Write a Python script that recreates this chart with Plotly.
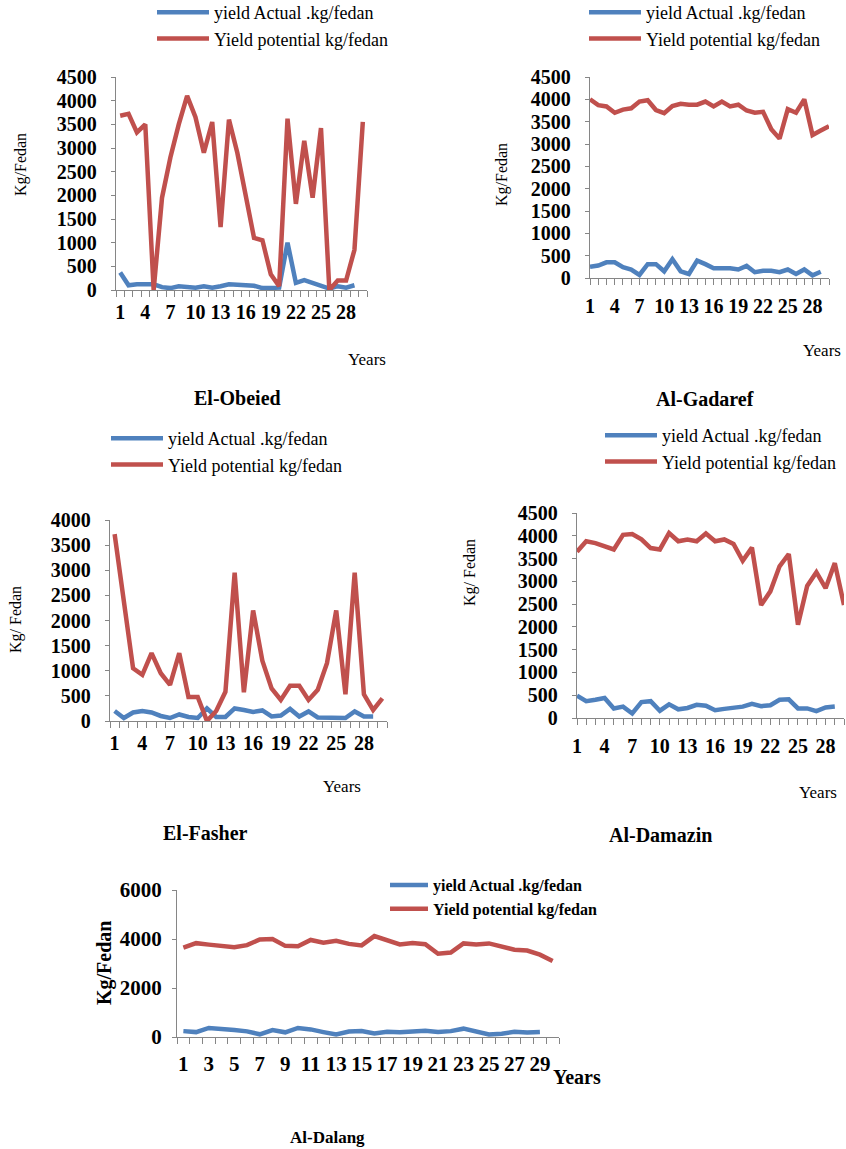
import plotly.graph_objects as go

# ---------------- data ----------------
years = list(range(1, 31))

obeied_actual = [370, 100, 120, 130, 120, 60, 40, 80, 70, 50, 80, 50, 80, 120, 110,
                 100, 90, 40, 40, 50, 1000, 150, 210, 150, 80, 30, 80, 50, 100]
obeied_potential = [3680, 3720, 3330, 3500, 0, 1950, 2800, 3500, 4100, 3650, 2900, 3550,
                    1330, 3600, 2900, 2050, 1100, 1050, 330, 80, 3620, 1820, 3150, 1950,
                    3420, 0, 200, 200, 850, 3550]

gadaref_actual = [250, 280, 350, 350, 240, 190, 70, 310, 310, 150, 420, 150, 90, 390, 310,
                  220, 220, 220, 190, 270, 130, 160, 160, 130, 190, 90, 190, 60, 140]
gadaref_potential = [4000, 3870, 3840, 3700, 3770, 3800, 3950, 3980, 3760, 3690, 3850, 3900,
                     3880, 3880, 3950, 3840, 3950, 3840, 3880, 3750, 3700, 3720, 3330, 3120,
                     3780, 3700, 4000, 3200, 3300, 3400]

fasher_actual = [200, 60, 170, 200, 170, 100, 60, 130, 80, 60, 250, 80, 80, 250, 220,
                 180, 210, 90, 110, 240, 90, 190, 70, 70, 70, 60, 190, 90, 90]
fasher_potential = [3720, 2400, 1050, 920, 1350, 950, 720, 1350, 480, 480, 0, 200,
                    580, 2950, 570, 2200, 1200, 650, 420, 700, 700, 420, 620, 1150,
                    2200, 530, 2950, 530, 220, 450]

damazin_actual = [490, 370, 400, 440, 210, 250, 100, 350, 370, 160, 300, 190, 220, 290, 270,
                  170, 200, 220, 250, 310, 260, 280, 400, 410, 210, 210, 150, 230, 250]
damazin_potential = [3650, 3880, 3840, 3760, 3700, 4020, 4040, 3920, 3730, 3700, 4060, 3880,
                     3920, 3880, 4050, 3880, 3920, 3820, 3450, 3740, 2480, 2780, 3330, 3600,
                     2050, 2900, 3200, 2850, 3400, 2480]

dalang_actual = [240, 200, 370, 350, 290, 230, 110, 280, 190, 370, 310, 200, 100, 220, 240,
                 140, 210, 190, 220, 250, 200, 240, 340, 200, 100, 130, 210, 180, 200]
dalang_potential = [3650, 3830, 3770, 3700, 3660, 3750, 3980, 4000, 3720, 3700, 3960, 3850,
                    3930, 3800, 3740, 4120, 3950, 3780, 3840, 3790, 3400, 3450, 3820, 3780,
                    3820, 3680, 3560, 3530, 3360, 3100]

station_names = ["El-Obeied", "Al-Gadaref", "El-Fasher", "Al-Damazin", "Al-Dalang"]
series_names = ["yield Actual .kg/fedan", "Yield potential kg/fedan"]
ticks_every3 = [1, 4, 7, 10, 13, 16, 19, 22, 25, 28]
ticks_odd = list(range(1, 30, 2))

# ---------------- style ----------------
W, H = 846, 1149
BLUE = "#4F81BD"
RED = "#C0504D"
AXIS = "#868686"
FONT = "Liberation Serif"


def fx(px):
    return px / W


def fy(py):
    return 1 - py / H


panels = [
    dict(actual=obeied_actual, potential=obeied_potential, x=(116, 367), y=(77, 290),
         yr=[0, 4500], dt=500, between=True, xt=ticks_every3, ylab="Kg/Fedan",
         ylab_pos=(21, 165), years_pos=(367, 359), title_pos=(237, 398),
         leg=(152, -6), legw=52, legfs=18, bold=False, lw=4.5, tfs=20, xstand=4, ystand=10),
    dict(actual=gadaref_actual, potential=gadaref_potential, x=(590, 829), y=(77, 278),
         yr=[0, 4500], dt=500, between=False, xt=ticks_every3, ylab="Kg/Fedan",
         ylab_pos=(502, 175), years_pos=(822, 350), title_pos=(705, 399),
         leg=(584, -6), legw=52, legfs=18, bold=False, lw=4.5, tfs=20, xstand=4, ystand=10),
    dict(actual=fasher_actual, potential=fasher_potential, x=(110, 387), y=(520, 721),
         yr=[0, 4000], dt=500, between=True, xt=ticks_every3, ylab="Kg/ Fedan",
         ylab_pos=(16, 620), years_pos=(342, 786), title_pos=(205, 833),
         leg=(106, 420), legw=52, legfs=18, bold=False, lw=4.5, tfs=20, xstand=4, ystand=10),
    dict(actual=damazin_actual, potential=damazin_potential, x=(577, 844), y=(513, 718),
         yr=[0, 4500], dt=500, between=False, xt=ticks_every3, ylab="Kg/ Fedan",
         ylab_pos=(470, 573), years_pos=(818, 792), title_pos=(660, 835),
         leg=(600, 417), legw=52, legfs=18, bold=False, lw=4.5, tfs=20, xstand=4, ystand=10),
    dict(actual=dalang_actual, potential=dalang_potential, x=(177, 559), y=(890, 1037),
         yr=[0, 6000], dt=2000, between=True, xt=ticks_odd, ylab="Kg/Fedan",
         ylab_pos=(104, 963), years_pos=(577, 1077), title_pos=(327, 1137),
         leg=(385, 868), legw=38, legfs=16, bold=True, lw=4.5, tfs=21, xstand=8, ystand=6),
]

fig = go.Figure()
layout = dict(
    width=W, height=H,
    margin=dict(l=0, r=0, t=0, b=0, autoexpand=False),
    paper_bgcolor="white", plot_bgcolor="white",
    font=dict(family=FONT, color="black"),
    annotations=[],
)

for i, p in enumerate(panels, start=1):
    sfx = "" if i == 1 else str(i)
    legname = "legend" if i == 1 else f"legend{i}"
    n_act = len(p["actual"])
    n_pot = len(p["potential"])
    fig.add_trace(go.Scatter(
        x=years[:n_act], y=p["actual"], mode="lines", name=series_names[0],
        line=dict(color=BLUE, width=p["lw"]), xaxis=f"x{sfx}", yaxis=f"y{sfx}",
        legend=legname, hoverinfo="skip"))
    fig.add_trace(go.Scatter(
        x=years[:n_pot], y=p["potential"], mode="lines", name=series_names[1],
        line=dict(color=RED, width=p["lw"]), xaxis=f"x{sfx}", yaxis=f"y{sfx}",
        legend=legname, hoverinfo="skip"))

    if p["between"]:
        xrange = [0.5, len(years) + 0.5]
        minor_vals = [k + 0.5 for k in range(0, len(years) + 1)]
        major_ticks = ""
    else:
        xrange = [1, len(years)]
        minor_vals = years
        major_ticks = "outside"

    layout[f"xaxis{sfx}"] = dict(
        domain=[fx(p["x"][0]), fx(p["x"][1])], anchor=f"y{sfx}",
        range=xrange, tickmode="array", tickvals=p["xt"],
        ticktext=[str(v) for v in p["xt"]],
        ticks=major_ticks, ticklen=6, tickcolor=AXIS, tickwidth=1,
        minor=dict(tickmode="array", tickvals=minor_vals, ticks="outside",
                   ticklen=6, tickcolor=AXIS, tickwidth=1),
        showline=True, linecolor=AXIS, linewidth=1.3,
        showgrid=False, zeroline=False, fixedrange=True, automargin=False,
        tickfont=dict(family=FONT, size=p["tfs"], color="black", weight="bold"),
        ticklabelstandoff=p["xstand"],
    )
    layout[f"yaxis{sfx}"] = dict(
        domain=[fy(p["y"][1]), fy(p["y"][0])], anchor=f"x{sfx}",
        range=p["yr"], dtick=p["dt"], tick0=0,
        ticks="outside", ticklen=4, tickcolor=AXIS, tickwidth=1,
        showline=True, linecolor=AXIS, linewidth=1.3,
        showgrid=False, zeroline=False, fixedrange=True, automargin=False,
        tickfont=dict(family=FONT, size=p["tfs"], color="black", weight="bold"),
        ticklabelstandoff=p["ystand"],
    )
    weight = "bold" if p["bold"] else "normal"
    layout[legname] = dict(
        x=fx(p["leg"][0]), y=fy(p["leg"][1]), xanchor="left", yanchor="top",
        bgcolor="rgba(0,0,0,0)", borderwidth=0, traceorder="normal",
        itemwidth=p["legw"], tracegroupgap=0, itemclick=False, itemdoubleclick=False,
        font=dict(family=FONT, size=p["legfs"], color="black", weight=weight),
    )

    layout["annotations"].append(dict(
        text=p["ylab"], x=fx(p["ylab_pos"][0]), y=fy(p["ylab_pos"][1]),
        xref="paper", yref="paper", showarrow=False, textangle=-90,
        xanchor="center", yanchor="middle",
        font=dict(family=FONT, size=20 if p["bold"] else 16, color="black", weight=weight)))
    layout["annotations"].append(dict(
        text="Years", x=fx(p["years_pos"][0]), y=fy(p["years_pos"][1]),
        xref="paper", yref="paper", showarrow=False,
        xanchor="center", yanchor="middle",
        font=dict(family=FONT, size=20 if p["bold"] else 17, color="black", weight=weight)))
    layout["annotations"].append(dict(
        text=station_names[i - 1], x=fx(p["title_pos"][0]), y=fy(p["title_pos"][1]),
        xref="paper", yref="paper", showarrow=False,
        xanchor="center", yanchor="middle",
        font=dict(family=FONT, size=17 if p["bold"] else 20, color="black", weight="bold")))

fig.update_layout(**layout)
fig.write_html("out.html",
               config={"displayModeBar": False},
               post_script="document.body.style.margin='0';document.body.style.overflow='hidden';")
